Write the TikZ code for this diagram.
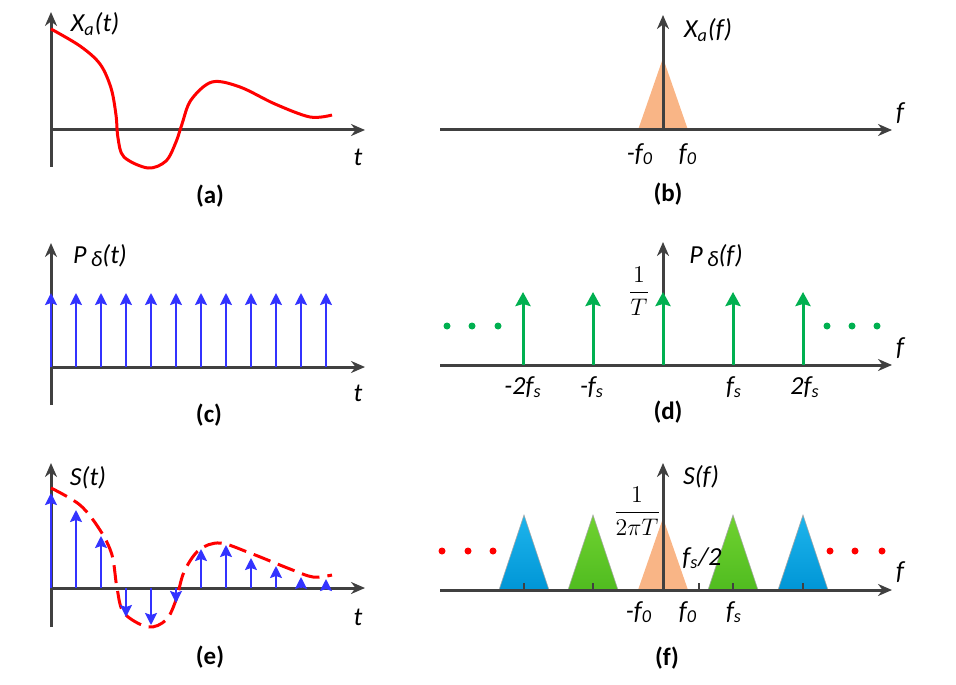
\documentclass[tikz,border=0pt]{standalone}
\usepackage{fontspec}
\setmainfont{Carlito}
\usetikzlibrary{arrows.meta}
\definecolor{axisgray}{HTML}{404040}
\definecolor{sigred}{HTML}{FF0000}
\definecolor{pulseblue}{HTML}{3333FF}
\definecolor{combgreen}{HTML}{00B050}
\definecolor{peach}{HTML}{F9B586}
\definecolor{imgbluetop}{HTML}{1EB4EC}
\definecolor{imgbluebot}{HTML}{0096D6}
\definecolor{imggreentop}{HTML}{70D230}
\definecolor{imggreenbot}{HTML}{50BC20}
\tikzset{>={Stealth[length=7pt,width=6pt]},
  axis/.style = {draw=axisgray,line width=1.5pt,->},
  pulse/.style = {draw=pulseblue,line width=1.1pt,-{Stealth[length=6pt,width=6pt,inset=1pt]}},
  comb/.style = {draw=combgreen,line width=1.5pt,-{Stealth[length=7pt,width=7.5pt,inset=1pt]}},
  signal/.style = {draw=sigred,line width=1.5pt},
  lbl/.style = {inner sep=0pt,font=\fontsize{13}{15}\selectfont\itshape},
  panelcap/.style = {inner sep=0pt,font=\fontsize{12.5}{15}\selectfont\bfseries},
  frac/.style = {inner sep=0pt,font=\fontsize{11.5}{13}\selectfont},
  tri/.style = {draw=gray!70,line width=0.3pt},
  dot/.style = {circle,inner sep=0pt,minimum size=3.5pt},
  ticktop/.style = {draw=axisgray,line width=0.6pt}
}

\begin{document}
\begin{tikzpicture}[x=0.5pt,y=-0.5pt]
  \useasboundingbox (0,0) rectangle (956,684);
  % origins of the six plots
  \coordinate (oa) at (51,130);
  \coordinate (ob) at (663,130);
  \coordinate (oc) at (51,367);
  \coordinate (od) at (663,365);
  \coordinate (oe) at (51,588);
  \coordinate (of) at (663,590);

  % (a) analog signal
  \draw[axis] (51,167) -- (51,12);
  \draw[axis] (oa) -- (365,130);
  \draw[signal] plot[smooth,tension=0.55] coordinates {(51,29) (80,46) (100,64)
    (111,88) (116,115) (118,138) (124,157) (148,168) (166,161) (176,142)
    (182,124) (191,100) (212,82) (240,87) (275,104) (310,117) (332,115)};
  \node[lbl] (ya) at (95,24) {X\textsubscript{a}(t)};
  \node[lbl] (xa) at (358,157) {t};
  \node[panelcap] (capa) at (210,196) {(a)};

  % (b) spectrum of the analog signal
  \fill[peach] (638,130) -- (663,58) -- (688,130) -- cycle;
  \draw[axis] (440,130) -- (892,130);
  \draw[axis] (ob) -- (663,15);
  \node[lbl] (yb) at (708,30) {X\textsubscript{a}(f)};
  \node[lbl] (xb) at (900,113) {f};
  \node[lbl] (mfb) at (640,154) {-f\textsubscript{0}};
  \node[lbl] (pfb) at (688,154) {f\textsubscript{0}};
  \node[panelcap] (capb) at (668,194) {(b)};

  % (c) impulse train
  \draw[axis] (51,405) -- (51,243);
  \draw[axis] (oc) -- (365,367);
  \foreach \x in {0,...,11}
    \draw[pulse] (51+25*\x,367) -- (51+25*\x,293);
  \node[lbl] (yc) at (100,256) {P\,\raisebox{-1.5pt}{\fontsize{11}{13}\selectfont δ}(t)};
  \node[lbl] (xc) at (358,393) {t};
  \node[panelcap] (capc) at (209,415) {(c)};

  % (d) spectrum of the impulse train
  \draw[axis] (440,365) -- (892,365);
  \draw[axis] (od) -- (663,242);
  \foreach \x in {-2,...,2}
    \draw[comb] (663+70*\x,365) -- (663+70*\x,292);
  \foreach \x in {447,472,498,827,852,877}
    \node[dot,fill=combgreen] at (\x,326) {};
  \node[frac] (ampd) at (639,291) {$\displaystyle\frac{1}{T}$};
  \node[lbl] (yd) at (716,256) {P\,\raisebox{-1.5pt}{\fontsize{11}{13}\selectfont δ}(f)};
  \node[lbl] (xd) at (900,348) {f};
  \node[lbl] (m2d) at (523,387) {-2f\textsubscript{s}};
  \node[lbl] (m1d) at (592,387) {-f\textsubscript{s}};
  \node[lbl] (p1d) at (734,387) {f\textsubscript{s}};
  \node[lbl] (p2d) at (805,387) {2f\textsubscript{s}};
  \node[panelcap] (capd) at (668,412) {(d)};

  % (e) sampled signal
  \draw[axis] (51,627) -- (51,463);
  \draw[axis] (oe) -- (365,588);
  \draw[signal,dash pattern=on 9pt off 4pt] plot[smooth,tension=0.55] coordinates {(51,488)
    (80,505) (100,530) (112,555) (117,588) (124,613) (148,627) (166,620)
    (176,600) (184,572) (199,550) (220,543) (250,553) (290,569) (313,577) (332,575)};
  \foreach \x/\y in {51/493,76/510,101/536,126/617,151/625,176/603,201/549,
                     226/545,251/558,276/566,301/577,326/579}
    \draw[pulse] (\x,588) -- (\x,\y);
  \node[lbl] (ye) at (88,478) {S(t)};
  \node[lbl] (xe) at (358,617) {t};
  \node[panelcap] (cape) at (210,657) {(e)};

  % (f) spectrum of the sampled signal
  \foreach \c/\t/\b in {524/imgbluetop/imgbluebot,803/imgbluetop/imgbluebot,
                        593/imggreentop/imggreenbot,733/imggreentop/imggreenbot}
    \draw[tri,top color=\t,bottom color=\b] (\c-25,590) -- (\c,515) -- (\c+25,590) -- cycle;
  \fill[peach] (638,590) -- (663,518) -- (688,590) -- cycle;
  \foreach \x in {524,593,699,733,803}
    \draw[ticktop] (\x,590) -- (\x,583);
  \draw[axis] (440,590) -- (892,590);
  \draw[axis] (of) -- (663,463);
  \foreach \x in {442,468,493,830,855,882}
    \node[dot,fill=sigred] at (\x,551) {};
  \node[frac] (ampf) at (637,511) {$\displaystyle\frac{1}{2\pi T}$};
  \node[lbl] (yf) at (701,477) {S(f)};
  \node[lbl] (xf) at (900,572) {f};
  \node[lbl] (halff) at (702,558) {f\textsubscript{s}/2};
  \node[lbl] (mff) at (639,612) {-f\textsubscript{0}};
  \node[lbl] (pff) at (688,612) {f\textsubscript{0}};
  \node[lbl] (fsf) at (734,612) {f\textsubscript{s}};
  \node[panelcap] (capf) at (667,658) {(f)};
\end{tikzpicture}
\end{document}
